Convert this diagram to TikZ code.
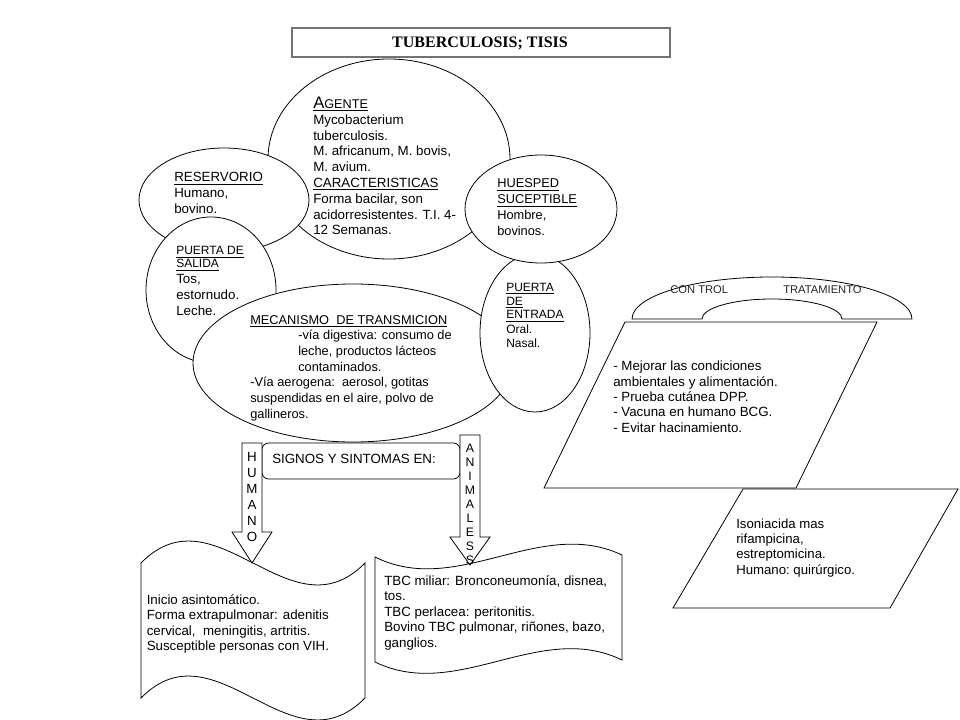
\documentclass[tikz,border=0pt]{standalone}
\usepackage{fontspec}
\setmainfont{Liberation Sans}
\newfontfamily\titlefont{Liberation Serif}
\usetikzlibrary{shapes.geometric}
\begin{document}
\begin{tikzpicture}[x=0.75pt,y=-0.75pt,
  shp/.style={draw=black, line width=0.6pt, fill=white},
  ell/.style={shp, ellipse, inner sep=0pt},
  txt/.style={inner sep=0pt, align=left, anchor=base west, font=\fontsize{10}{11.85}\selectfont},
  small/.style={txt, font=\fontsize{9}{9.75}\selectfont},
  letters/.style={inner sep=0pt, align=center, anchor=base},
  blockarrow/.style={shp},
  scroll/.style={shp}]
\useasboundingbox (0,0) rectangle (960,720);
% title
\node[draw=black!55, line width=1.5pt, minimum width=378*0.75pt, minimum height=29*0.75pt, inner sep=0pt] (title) at (481,42.5) {};
\node[inner sep=0pt, anchor=base, font=\titlefont\bfseries\fontsize{12}{14}\selectfont] (titletext) at (480,48) {TUBERCULOSIS; TISIS};
% ellipses
\node[ell, minimum width=242*0.75pt, minimum height=200*0.75pt] (agente) at (389,159) {};
\node[ell, minimum width=170*0.75pt, minimum height=104*0.75pt] (reservorio) at (224,200) {};
\node[ell, minimum width=130*0.75pt, minimum height=146*0.75pt] (salida) at (211,290) {};
\node[ell, minimum width=320*0.75pt, minimum height=158*0.75pt] (mecanismo) at (353,363) {};
\node[ell, minimum width=110*0.75pt, minimum height=158*0.75pt] (entrada) at (535,333) {};
\node[ell, minimum width=152*0.75pt, minimum height=108*0.75pt] (huesped) at (541,209) {};
% ellipse texts (anchored at the baseline of their last line)
\node[txt] (tagente) at (313,235) {\underline{{\fontsize{12.5}{11.85}\selectfont A}{\fontsize{9.5}{11.85}\selectfont GENTE}}\\Mycobacterium\\tuberculosis.\\M. africanum, M. bovis,\\M. avium.\\\underline{CARACTERISTICAS}\\Forma bacilar, son\\acidorresistentes. T.I. 4-\\12 Semanas.};
\node[txt] (treservorio) at (174,213.5) {\underline{RESERVORIO}\\Humano,\\bovino.};
\node[small] (tsalidah) at (176,268) {\underline{PUERTA DE}\\\underline{SALIDA}};
\node[txt] (tsalida) at (176,315.5) {Tos,\\estornudo.\\Leche.};
\node[txt, font=\fontsize{9.6}{11.75}\selectfont] (tmecanismo) at (250,418) {\underline{MECANISMO\ \ DE TRANSMICION}\\\hspace*{36pt}-vía digestiva: consumo de\\\hspace*{36pt}leche, productos lácteos\\\hspace*{36pt}contaminados.\\-Vía aerogena:\ \ aerosol, gotitas\\suspendidas en el aire,\ polvo de\\gallineros.};
\node[txt, font=\fontsize{9.6}{12}\selectfont] (thuesped) at (497,236) {\underline{HUESPED}\\\underline{SUCEPTIBLE}\\Hombre,\\bovinos.};
\node[txt, font=\fontsize{9}{10.5}\selectfont] (tentrada) at (506,347) {\underline{PUERTA}\\\underline{DE}\\\underline{ENTRADA}\\Oral.\\Nasal.};
% right side
\draw[shp] (625,322) coordinate (p1a) -- (877,322) coordinate (p1b) -- (796,488) coordinate (p1c) -- (544,488) coordinate (p1d) -- cycle;
\draw[shp] (743,489) coordinate (p2a) -- (958,489) coordinate (p2b) -- (890,608) coordinate (p2c) -- (673,608) coordinate (p2d) -- cycle;
\draw[shp] (632,319) coordinate (arcL) arc[start angle=180, end angle=0, x radius=105pt, y radius=31.5pt] coordinate (arcR) -- (842,319) arc[start angle=0, end angle=180, x radius=52.5pt, y radius=15pt] -- cycle;
\node[inner sep=0pt, anchor=base west, text=black!85, font=\fontsize{8.4}{10}\selectfont] (tcontrol) at (670,293) {CON TROL};
\node[inner sep=0pt, anchor=base west, text=black!85, font=\fontsize{8.4}{10}\selectfont] (ttrat) at (783,293) {TRATAMIENTO};
\node[txt, font=\fontsize{10}{11.5}\selectfont] (tcontrolbox) at (613,432.3) {- Mejorar las condiciones\\ambientales y alimentación.\\- Prueba cutánea DPP.\\- Vacuna en humano BCG.\\- Evitar hacinamiento.};
\node[txt, font=\fontsize{9.9}{11.6}\selectfont] (ttratbox) at (736,574.4) {Isoniacida mas\\rifampicina,\\estreptomicina.\\Humano:\ quirúrgico.};
% scrolls
\draw[scroll] (141,563) coordinate (s1a) .. controls (215.7,487) and (290.3,639) .. (365,563) coordinate (s1b) -- (365,698) .. controls (290.3,774) and (215.7,622) .. (141,698) -- cycle;
\draw[scroll] (375,557) coordinate (s2a) .. controls (457.3,598) and (539.7,516) .. (622,555) coordinate (s2b) -- (622,660) .. controls (539.7,620) and (457.3,702) .. (375,662) -- cycle;
\node[txt, font=\fontsize{10}{11.7}\selectfont] (thumano) at (146.5,650.8) {Inicio asintomático.\\Forma extrapulmonar: adenitis\\cervical,\ \ meningitis, artritis.\\Susceptible personas con VIH.};
\node[txt, font=\fontsize{10}{11.7}\selectfont] (tanimal) at (384,647.4) {TBC miliar: Bronconeumonía, disnea,\\tos.\\TBC perlacea: peritonitis.\\Bovino TBC pulmonar, riñones, bazo,\\ganglios.};
% signos box and arrows
\node[shp, rounded corners=5pt, minimum width=198*0.75pt, minimum height=36*0.75pt, inner sep=0pt] (signos) at (361,461) {};
\node[txt] (tsignos) at (272,463) {SIGNOS Y SINTOMAS EN:};
\draw[blockarrow] (242,443) coordinate (ha) -- (242,532) -- (232,532) -- (252,563) coordinate (htip) -- (272,532) -- (262,532) -- (262,443) -- cycle;
\draw[blockarrow] (460,435) coordinate (aa) -- (460,537) -- (450,537) -- (470,565) coordinate (atip) -- (490,537) -- (480,537) -- (480,435) -- cycle;
\node[letters, font=\fontsize{10}{12}\selectfont] (lhumano) at (252,541) {H\\U\\M\\A\\N\\O};
\node[letters, font=\fontsize{9.2}{10.5}\selectfont] (lanimal) at (470,564) {A\\N\\I\\M\\A\\L\\E\\S\\S};
\end{tikzpicture}
\end{document}
